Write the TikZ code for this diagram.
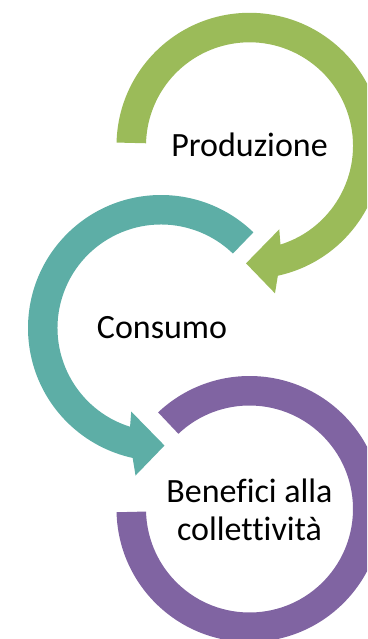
\documentclass[tikz,border=0pt]{standalone}
\usepackage{fontspec}
\setmainfont{Carlito}[Ligatures={NoCommon}]
\definecolor{cgreen}{HTML}{9BBB59}
\definecolor{cteal}{HTML}{5DAEA6}
\definecolor{cpurple}{HTML}{8064A2}
\tikzset{
  lbl/.style={inner sep=0pt, font=\fontsize{34}{38}\selectfont, text=black, align=center},
}
\begin{document}
\begin{tikzpicture}[x=1pt,y=1pt]
\useasboundingbox (0,-639) rectangle (367,0);
\clip (0,-639) rectangle (367,0);
% green arrow (Produzione)
\begin{scope}[shift={(249.5,-145.8)}]
\fill[cgreen] (178.6:133) arc[start angle=178.6, end angle=-77.7, radius=133]
  -- (-80.2:149.7) -- (-91.7:117.6) -- (-70.4:88.7) -- (-72.6:103.5)
  arc[start angle=-72.6, end angle=178.6, radius=103.5] -- cycle;
\end{scope}
% teal arrow (Consumo)
\begin{scope}[shift={(161,-328)}]
\fill[cteal] (46:133) arc[start angle=46, end angle=257.7, radius=133]
  -- (260.2:149.7) -- (271.7:117.6) -- (250.4:88.7) -- (252.6:103.5)
  arc[start angle=252.6, end angle=46, radius=103.5] -- cycle;
\end{scope}
% purple ring (Benefici)
\begin{scope}[shift={(249.5,-509)}]
\fill[cpurple] (181.4:133) arc[start angle=181.4, end angle=493.4, radius=133]
  -- (493.4:103.5) arc[start angle=493.4, end angle=181.4, radius=103.5] -- cycle;
\end{scope}
\node[lbl, anchor=base] (prod) at (249.5,-157) {Produzione};
\node[lbl, anchor=base] (cons) at (162,-338) {Consumo};
\node[lbl, anchor=base] (bene) at (249.5,-540) {Benefici alla\\collettività};
\end{tikzpicture}
\end{document}
